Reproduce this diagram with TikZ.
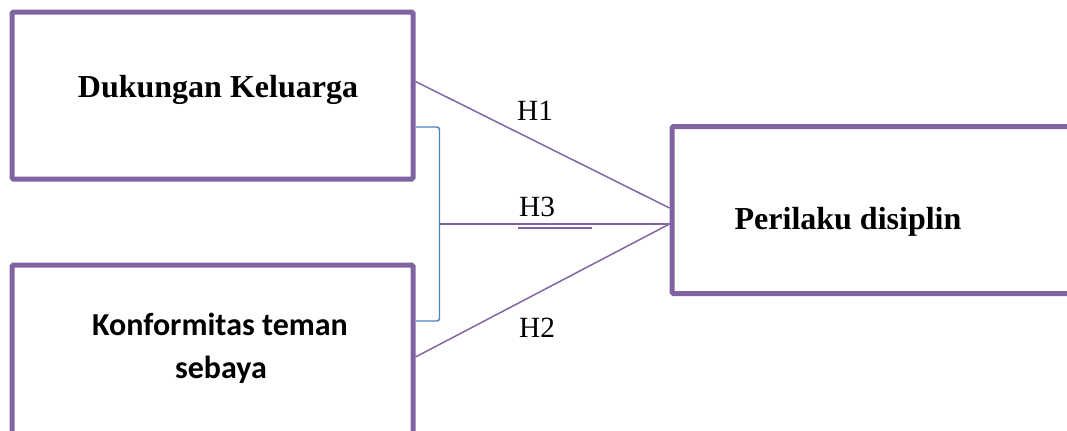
\documentclass[tikz,border=0pt]{standalone}
\usepackage{fontspec}
\setmainfont{Liberation Serif}
\newfontfamily\calibrifont{Carlito}
\usetikzlibrary{calc}
\definecolor{boxpurple}{HTML}{8064A2}
\definecolor{bracketblue}{HTML}{4F81BD}
\begin{document}
\begin{tikzpicture}[x=0.75pt,y=-0.75pt,
  varbox/.style={draw=boxpurple,line width=3.75pt,rounded corners=1pt,
    minimum width=300.75pt,minimum height=125.25pt,inner sep=0pt},
  boxtext/.style={font=\fontsize{24}{32}\selectfont\bfseries,anchor=base,inner sep=0pt},
  sanstext/.style={font=\calibrifont\fontsize{24}{32}\selectfont\bfseries,anchor=base,inner sep=0pt},
  link/.style={draw=boxpurple,line width=1.1pt},
  bracketline/.style={draw=bracketblue,line width=1.1pt,rounded corners=2pt},
  hlabel/.style={font=\fontsize{22}{26}\selectfont,anchor=base,inner sep=0pt}]
\useasboundingbox (0,0) rectangle (1067,430);

% variable boxes (the lower and right ones run past the page edge)
\begin{scope}
  \clip (0,0) rectangle (1067,430);
  \node[varbox] (dk) at (212.5,95.5) {};
  \node[varbox,minimum height=131.25pt] (kt) at (212.5,352.5) {};
  \node[varbox] (pd) at (872.5,210) {};
\end{scope}

% box captions
\node[boxtext] (dkt) at (218,97) {Dukungan Keluarga};
\node[boxtext] (pdt) at (848,229) {Perilaku disiplin};
\node[sanstext] (kta) at (220,335) {Konformitas teman};
\node[sanstext] (ktb) at (221,378) {sebaya};

% connector end points
\coordinate (h1s) at ($(dk.east)+(0,-14)$);
\coordinate (h1e) at ($(pd.west)+(0,-2)$);
\coordinate (h2s) at ($(kt.east)+(0,4.5)$);
\coordinate (join) at ($(pd.west)+(0,14)$);
\coordinate (bt) at ($(dk.east)+(0,31.5)$);
\coordinate (bb) at ($(kt.east)+(0,-31.5)$);

% bracket joining both predictors
\draw[bracketline] (bt) -- ++(24,0) coordinate (btr) -- (btr |- bb) coordinate (bbr) -- (bb);
\coordinate (bm) at ($(btr)!0.5!(bbr)$);

% hypothesis paths
\draw[link] (h1s) -- (h1e);
\draw[link] (h2s) -- (join);
\draw[link] (bm) -- (join);

% hypothesis labels
\node[hlabel] (h1) at (535,120) {H1};
\node[hlabel] (h3) at (537,216) {H3};
\node[hlabel] (h2) at (537,337) {H2};
\coordinate (ula) at (518,228);
\coordinate (ulb) at (592,228);
\draw[link] (ula) -- (ulb);
\end{tikzpicture}
\end{document}
